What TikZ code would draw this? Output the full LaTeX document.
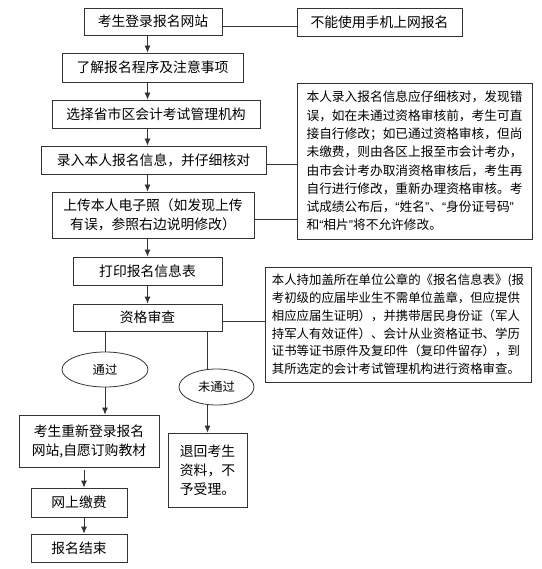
\documentclass[tikz,border=0pt]{standalone}
\usepackage{fontspec}
\usepackage{tikz}
\usetikzlibrary{arrows.meta,shapes}
\newfontfamily\cjk{Noto Sans CJK SC}
\newfontfamily\latn{Liberation Sans}
\newcommand\oq{{\latn “}}
\newcommand\cq{{\latn ”}}
\tikzset{>={Latex[width=6pt,length=7pt]}}
\tikzset{
  stepbox/.style={draw=black!80, inner sep=0pt, align=center, font=\cjk\fontsize{13.8}{18.8}\selectfont},
  notebox/.style={draw=black!80, inner sep=0pt, align=left, font=\cjk\fontsize{12.7}{18.3}\selectfont},
  choice/.style={draw=black!80, ellipse, inner sep=0pt, font=\cjk\fontsize{12.3}{15}\selectfont},
}

\begin{document}
\begin{tikzpicture}[x=1pt, y=-1pt, line width=0.8pt]

  \useasboundingbox (0,0) rectangle (541,569);

  %% main column
  \node[stepbox, minimum width=138, minimum height=27] (login) at (153, 21.5) {考生登录报名网站};
  \node[stepbox, minimum width=165, minimum height=28] (nophone) at (379.5, 22) {不能使用手机上网报名};
  \node[stepbox, minimum width=181, minimum height=29] (rules) at (152.5, 67.5) {了解报名程序及注意事项};
  \node[stepbox, minimum width=208, minimum height=28] (office) at (156, 114) {选择省市区会计考试管理机构};
  \node[stepbox, minimum width=225, minimum height=28] (input) at (153.5, 160) {录入本人报名信息，并仔细核对};
  \node[stepbox, minimum width=202, minimum height=46] (photo) at (153, 215) {上传本人电子照（如发现上传\\有误，参照右边说明修改）};
  \node[stepbox, minimum width=149, minimum height=28] (print) at (147.5, 271) {打印报名信息表};
  \node[stepbox, minimum width=149, minimum height=27] (check) at (147.5, 317.5) {资格审查};

  %% notes on the right
  \node[notebox, minimum width=235, minimum height=156] (notefix) at (414.5, 161) {本人录入报名信息应仔细核对，发现错\\误，如在未通过资格审核前，考生可直\\接自行修改；如已通过资格审核，但尚\\未缴费，则由各区上报至市会计考办，\\由市会计考办取消资格审核后，考生再\\自行进行修改，重新办理资格审核。考\\试成绩公布后，\oq 姓名\cq 、\oq 身份证号码\cq\\和\oq 相片\cq 将不允许修改。};
  \node[notebox, font=\cjk\fontsize{12.4}{17.8}\selectfont, minimum width=266, minimum height=115] (notecheck) at (398, 324.5) {本人持加盖所在单位公章的《报名信息表》(报\\考初级的应届毕业生不需单位盖章，但应提供\\相应应届生证明），并携带居民身份证（军人\\持军人有效证件）、会计从业资格证书、学历\\证书等证书原件及复印件（复印件留存），到\\其所选定的会计考试管理机构进行资格审查。};

  %% results
  \node[choice, minimum width=86, minimum height=35] (pass) at (105, 369.5) {通过};
  \node[choice, minimum width=75, minimum height=36] (fail) at (216.5, 387) {未通过};
  \node[stepbox, font=\cjk\fontsize{13.8}{19}\selectfont, minimum width=140, minimum height=52] (rebuy) at (89, 441) {考生重新登录报名\\网站,自愿订购教材};
  \node[stepbox, font=\cjk\fontsize{13.8}{19}\selectfont, minimum width=79, minimum height=74] (reject) at (207.5, 470) {退回考生\\资料，不\\予受理。};
  \node[stepbox, minimum width=96, minimum height=29] (pay) at (79, 502.5) {网上缴费};
  \node[stepbox, minimum width=96, minimum height=28] (done) at (79, 548) {报名结束};

  \draw[black!80] ([yshift=-4.5pt]login.east) -- ([yshift=-4.5pt]login.east -| nophone.west); % login-nophone

  \draw[->, black!80] (login.south -| print) -- (rules.north -| print);
  \draw[->, black!80] (rules.south -| print) -- (office.north -| print);
  \draw[->, black!80] (office.south -| print) -- (input.north -| print);
  \draw[->, black!80] (input.south -| print) -- (photo.north -| print);
  \draw[->, black!80] (photo.south -| print) -- (print.north);
  \draw[->, black!80] (print.south) -- (check.north);

  \draw[black!80] ([yshift=-4pt]input.east) -- ([yshift=-4pt]input.east -| notefix.west); %% input-note
  \draw[black!80] ([yshift=-4pt]photo.east) -- ([yshift=-4pt]photo.east -| notefix.west); %% photo-note
  \draw[black!80] ([yshift=-3.5pt]check.east) -- ([yshift=-3.5pt]check.east -| notecheck.west); %% check-note

  \draw[black!80] (check.south -| pass) -- (pass.north);
  \draw[->, black!80] (pass.south) -- (rebuy.north -| pass);
  \draw[black!80] (check.south -| reject) -- (fail.north -| reject);
  \draw[->, black!80] (fail.south -| reject) -- (reject.north);

  \draw[->, black!80] ([xshift=-5pt, yshift=-3pt]rebuy.south) -- ([xshift=5pt]pay.north);
  \draw[->, black!80] ([xshift=5pt]pay.south) -- ([xshift=5pt]done.north);

\end{tikzpicture}
\end{document}
